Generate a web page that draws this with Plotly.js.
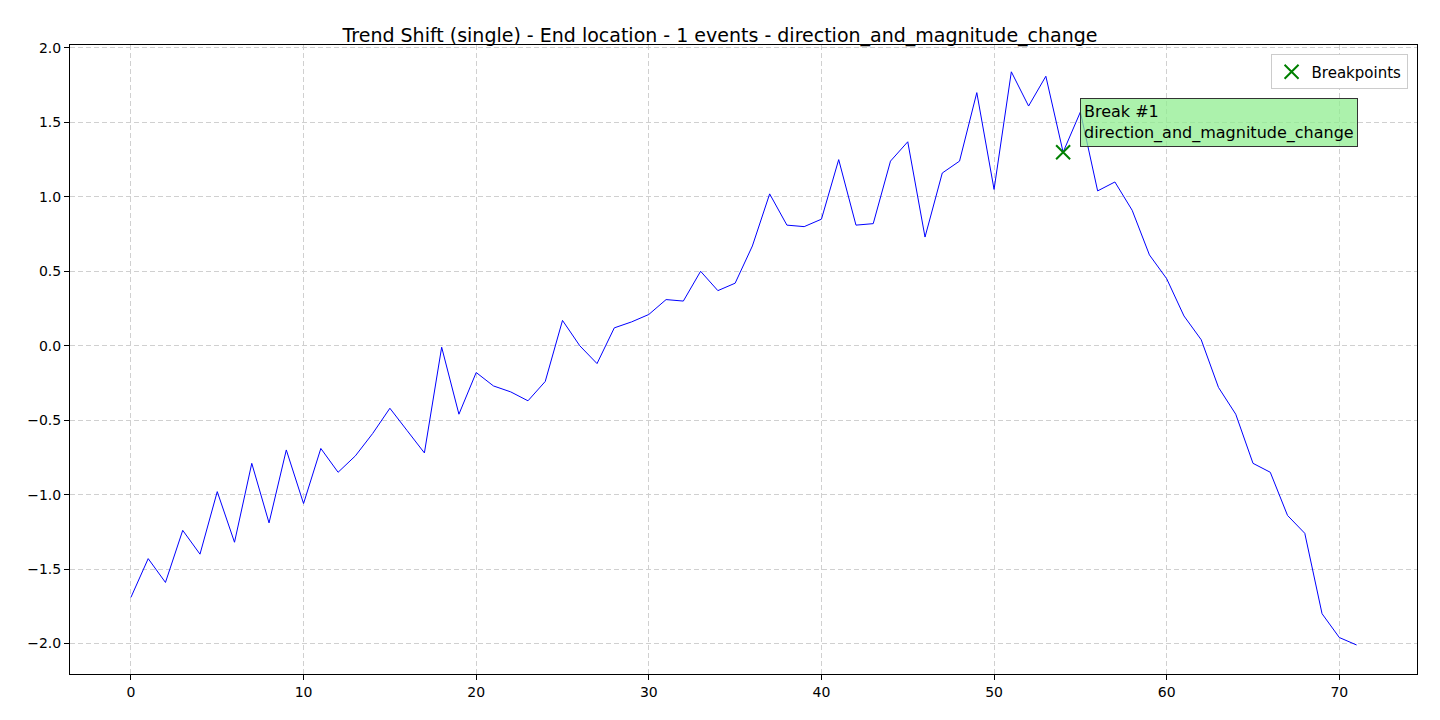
<!DOCTYPE html>
<html>
<head>
<meta charset="utf-8">
<script src="https://cdn.plot.ly/plotly-3.0.1.min.js"></script>
<style>body{margin:0}#plot{width:1440px;height:720px}</style>
</head>
<body>
<div id="plot"></div>
<script>
const xs = Array.from({length: 72}, (_, i) => i)
const values = [-1.69, -1.43, -1.59, -1.24, -1.40, -0.98, -1.32, -0.79, -1.19, -0.70,
  -1.06, -0.69, -0.85, -0.74, -0.59, -0.42, -0.57, -0.72, -0.01, -0.46,
  -0.18, -0.27, -0.31, -0.37, -0.24, 0.17, 0.0, -0.12, 0.12, 0.16,
  0.21, 0.31, 0.30, 0.50, 0.37, 0.42, 0.67, 1.02, 0.81, 0.80,
  0.85, 1.25, 0.81, 0.82, 1.24, 1.37, 0.73, 1.16, 1.24, 1.70,
  1.05, 1.84, 1.61, 1.81, 1.30, 1.57, 1.04, 1.10, 0.91, 0.61,
  0.45, 0.20, 0.04, -0.28, -0.46, -0.79, -0.85, -1.14, -1.26, -1.80,
  -1.96, -2.01]
const breakX = [54]
const breakY = [1.30]
const breakLabel = 'Break #1<br>direction_and_magnitude_change'

const grid = {showgrid: true, gridcolor: '#d0d0d0', griddash: '5px,3px', gridwidth: 1,
  zeroline: false, showline: true, mirror: true, linecolor: 'black',
  ticks: 'outside', ticklen: 5, tickcolor: 'black', tickfont: {size: 14}}

const data = [
  {x: xs, y: values, type: 'scatter', mode: 'lines', line: {color: 'blue', width: 1}, showlegend: false},
  {x: breakX, y: breakY, type: 'scatter', mode: 'markers', name: 'Breakpoints',
   marker: {symbol: 'x-thin', size: 14, line: {color: 'green', width: 2}}}
]

const layout = {
  width: 1440, height: 720,
  font: {family: 'DejaVu Sans', size: 14, color: 'black'},
  title: {text: 'Trend Shift (single) - End location - 1 events - direction_and_magnitude_change', font: {size: 19}, y: 0.96},
  margin: {l: 70, r: 23, t: 45, b: 46},
  xaxis: Object.assign({range: [-3.53, 74.5], dtick: 10}, grid),
  yaxis: Object.assign({range: [-2.205, 2.02], dtick: 0.5, tickformat: '.1f'}, grid),
  legend: {x: 0.993, y: 0.985, xanchor: 'right', yanchor: 'top', bordercolor: '#cccccc', borderwidth: 1, font: {size: 15}},
  annotations: [{x: 55, y: 1.5, xref: 'x', yref: 'y', text: breakLabel, showarrow: false,
    xanchor: 'left', yanchor: 'middle', align: 'left', bgcolor: 'rgba(144,238,144,0.75)',
    bordercolor: '#333', borderwidth: 1, borderpad: 3, font: {size: 16}}]
}

Plotly.newPlot('plot', data, layout, {displayModeBar: false})
</script>
</body>
</html>
